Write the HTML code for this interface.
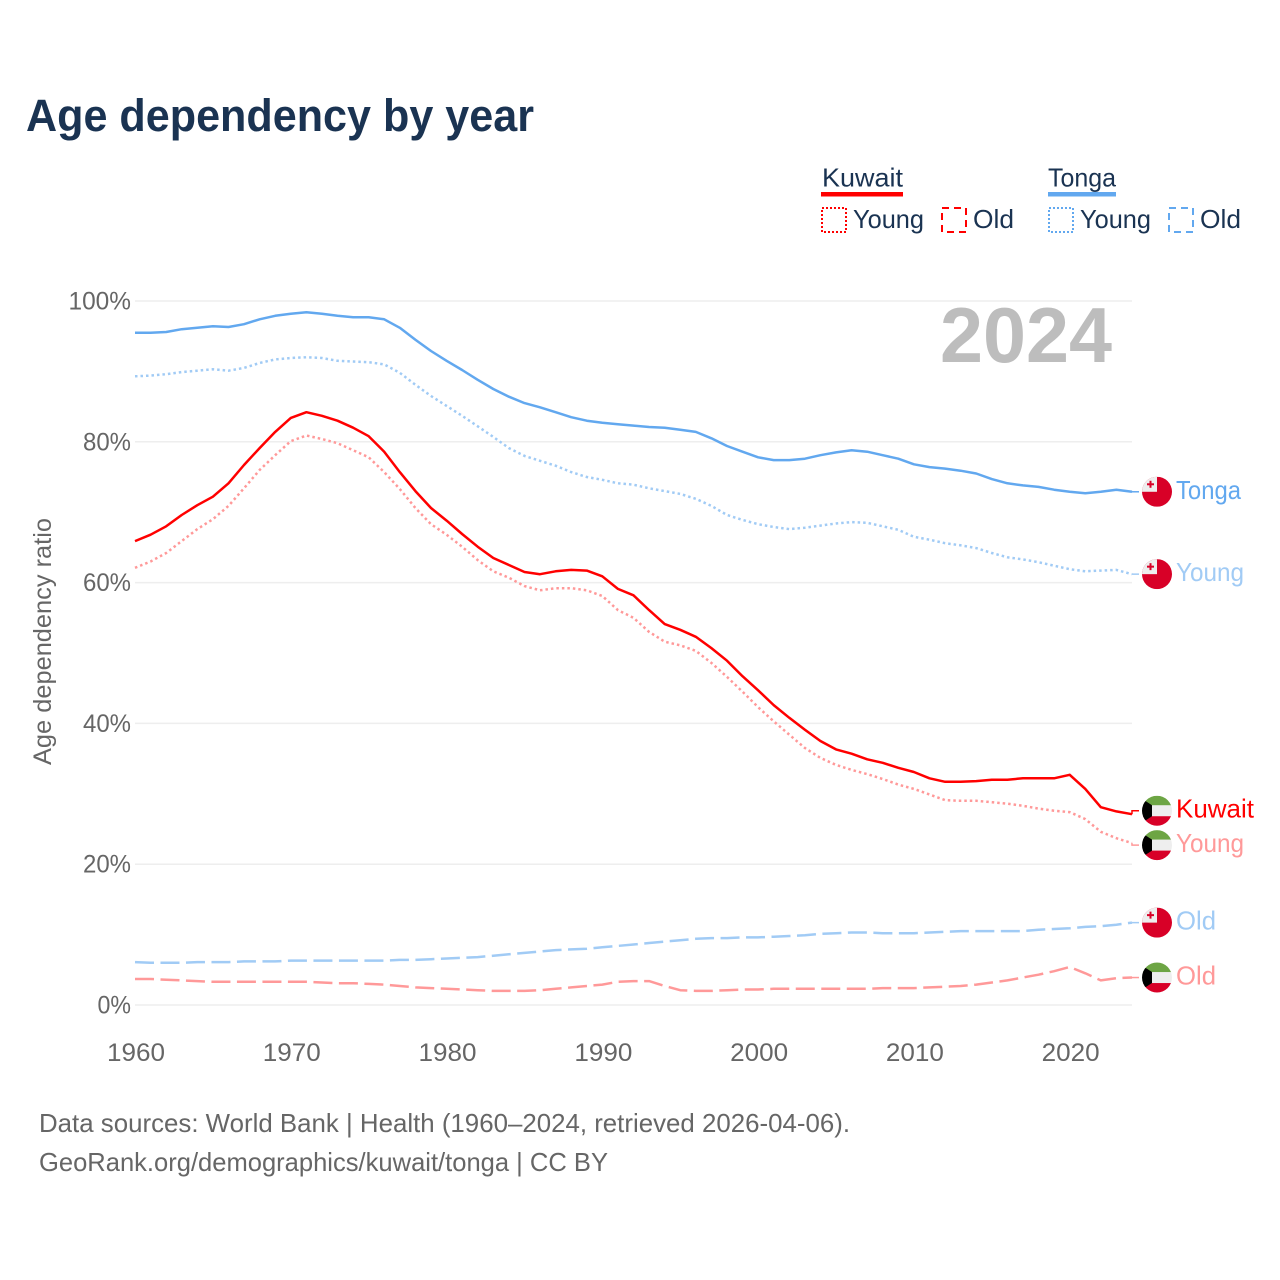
<!DOCTYPE html>
<html lang="en">
<head>
<meta charset="utf-8">
<title>Age dependency by year</title>
<style>
html,body{margin:0;padding:0;background:#fff;width:1280px;height:1280px;overflow:hidden}
svg{display:block}
text{font-family:"Liberation Sans",sans-serif}
</style>
</head>
<body>
<svg id="chart" xmlns="http://www.w3.org/2000/svg" width="1280" height="1280" viewBox="0 0 1280 1280">
  <defs>
    <clipPath id="flag-clip"><circle cx="0" cy="0" r="15"/></clipPath>
  </defs>
  <rect width="1280" height="1280" fill="#fff"/>
  <text x="26" y="131" font-size="45" font-weight="700" fill="#1a3352" textLength="508" lengthAdjust="spacingAndGlyphs">Age dependency by year</text>

  <g font-size="26" fill="#1a3352">
    <text x="822" y="186.5" textLength="81" lengthAdjust="spacingAndGlyphs">Kuwait</text>
    <rect x="821" y="192" width="82" height="4.5" fill="#ff0000"/>
    <rect x="822" y="208" width="24" height="24" fill="none" stroke="#ff0000" stroke-width="2" stroke-dasharray="2 2"/>
    <text x="853" y="228" textLength="71" lengthAdjust="spacingAndGlyphs">Young</text>
    <rect x="942" y="208" width="24" height="24" fill="none" stroke="#ff0000" stroke-width="2" stroke-dasharray="7 5"/>
    <text x="973" y="228" textLength="41" lengthAdjust="spacingAndGlyphs">Old</text>

    <text x="1048" y="186.5" textLength="68" lengthAdjust="spacingAndGlyphs">Tonga</text>
    <rect x="1048" y="192" width="68" height="4.5" fill="#62a8ef"/>
    <rect x="1049" y="208" width="24" height="24" fill="none" stroke="#62a8ef" stroke-width="2" stroke-dasharray="2 2"/>
    <text x="1080" y="228" textLength="71" lengthAdjust="spacingAndGlyphs">Young</text>
    <rect x="1169" y="208" width="24" height="24" fill="none" stroke="#62a8ef" stroke-width="2" stroke-dasharray="7 5"/>
    <text x="1200" y="228" textLength="41" lengthAdjust="spacingAndGlyphs">Old</text>
  </g>

  <g id="grid"></g>
  <g id="yticks" font-size="25" fill="#666"></g>
  <g id="xticks" font-size="25" fill="#666"></g>
  <text transform="translate(51,765) rotate(-90)" font-size="25" fill="#666" textLength="247" lengthAdjust="spacingAndGlyphs">Age dependency ratio</text>
  <text id="year-label" x="940" y="362" font-size="78" font-weight="700" fill="#bdbdbd" textLength="172" lengthAdjust="spacingAndGlyphs">2024</text>
  <g id="series"></g>
  <g id="end-labels"></g>

  <g font-size="26" fill="#666">
    <text x="39" y="1132" textLength="811" lengthAdjust="spacingAndGlyphs">Data sources: World Bank | Health (1960–2024, retrieved 2026-04-06).</text>
    <text x="39" y="1171" textLength="569" lengthAdjust="spacingAndGlyphs">GeoRank.org/demographics/kuwait/tonga | CC BY</text>
  </g>
</svg>
<script>
var startYear = 1960;
var xTickLabels = [1960, 1970, 1980, 1990, 2000, 2010, 2020];
var yTickLabels = [0, 20, 40, 60, 80, 100];

var tongaTotal = [95.5,95.5,95.6,96.0,96.2,96.4,96.3,96.7,97.4,97.9,98.2,98.4,98.2,97.9,97.7,97.7,97.4,96.2,94.5,92.9,91.5,90.2,88.8,87.5,86.4,85.5,84.9,84.2,83.5,83.0,82.7,82.5,82.3,82.1,82.0,81.7,81.4,80.5,79.4,78.6,77.8,77.4,77.4,77.6,78.1,78.5,78.8,78.6,78.1,77.6,76.8,76.4,76.2,75.9,75.5,74.7,74.1,73.8,73.6,73.2,72.9,72.7,72.9,73.2,72.9];
var tongaYoung = [89.3,89.4,89.6,89.9,90.1,90.3,90.1,90.5,91.2,91.7,91.9,92.0,91.9,91.5,91.4,91.3,91.0,89.8,88.1,86.5,85.1,83.7,82.2,80.7,79.1,78.0,77.3,76.6,75.7,75.0,74.6,74.1,73.9,73.4,73.0,72.6,71.9,70.9,69.6,68.9,68.3,67.9,67.6,67.8,68.1,68.4,68.6,68.5,68.0,67.5,66.5,66.1,65.6,65.3,64.9,64.2,63.6,63.3,62.9,62.4,61.9,61.6,61.7,61.8,61.2];
var tongaOld = [6.1,6.0,6.0,6.0,6.1,6.1,6.1,6.2,6.2,6.2,6.3,6.3,6.3,6.3,6.3,6.3,6.3,6.4,6.4,6.5,6.6,6.7,6.8,7.0,7.2,7.4,7.6,7.8,7.9,8.0,8.2,8.4,8.6,8.8,9.0,9.2,9.4,9.5,9.5,9.6,9.6,9.7,9.8,9.9,10.1,10.2,10.3,10.3,10.2,10.2,10.2,10.3,10.4,10.5,10.5,10.5,10.5,10.5,10.7,10.8,10.9,11.1,11.2,11.4,11.7];
var kuwaitTotal = [65.9,66.8,68.0,69.6,71.0,72.2,74.1,76.7,79.1,81.4,83.4,84.2,83.7,83.0,82.0,80.8,78.6,75.7,73.0,70.6,68.8,66.9,65.1,63.5,62.5,61.5,61.2,61.6,61.8,61.7,60.9,59.1,58.2,56.1,54.1,53.3,52.3,50.7,48.9,46.7,44.7,42.6,40.8,39.1,37.5,36.3,35.7,34.9,34.4,33.7,33.1,32.2,31.7,31.7,31.8,32.0,32.0,32.2,32.2,32.2,32.7,30.7,28.1,27.5,27.1];
var kuwaitYoung = [62.1,63.0,64.2,65.9,67.6,69.0,70.9,73.4,76.0,78.1,80.1,80.9,80.4,79.8,78.8,77.8,75.7,73.3,70.6,68.3,66.8,65.1,63.2,61.6,60.7,59.5,58.9,59.2,59.2,58.9,58.1,56.1,55.0,53.0,51.6,51.1,50.3,48.6,46.6,44.5,42.3,40.3,38.4,36.5,35.1,34.1,33.4,32.8,32.1,31.3,30.7,29.9,29.1,29.0,29.0,28.8,28.6,28.3,27.9,27.6,27.4,26.4,24.6,23.7,23.0];
var kuwaitOld = [3.7,3.7,3.6,3.5,3.4,3.3,3.3,3.3,3.3,3.3,3.3,3.3,3.2,3.1,3.1,3.0,2.9,2.7,2.5,2.4,2.3,2.2,2.1,2.0,2.0,2.0,2.1,2.3,2.5,2.7,2.9,3.3,3.4,3.4,2.7,2.1,2.0,2.0,2.1,2.2,2.2,2.3,2.3,2.3,2.3,2.3,2.3,2.3,2.4,2.4,2.4,2.5,2.6,2.7,2.9,3.2,3.5,3.9,4.3,4.8,5.4,4.5,3.5,3.8,3.9];

var seriesNames = ['tonga-old','kuwait-old','tonga-young','tonga-total','kuwait-young','kuwait-total'];
var seriesValues = [tongaOld, kuwaitOld, tongaYoung, tongaTotal, kuwaitYoung, kuwaitTotal];
var seriesLabels = ['Old','Old','Young','Tonga','Young','Kuwait'];
var seriesCountries = ['tonga','kuwait','tonga','tonga','kuwait','kuwait'];
var seriesKinds = ['old','old','young','total','young','total'];

function xScale(year){ return 135 + (year - 1960) * 15.578; }
function yScale(v){ return 1005 - v * 7.04; }

var NS = 'http://www.w3.org/2000/svg';
function make(tag, parent, attrs){
  var el = document.createElementNS(NS, tag);
  for (var k in attrs) el.setAttribute(k, attrs[k]);
  parent.appendChild(el);
  return el;
}

var gridG = document.getElementById('grid');
var yG = document.getElementById('yticks');
yTickLabels.forEach(function(v){
  var line = make('line', gridG, {x1:135, x2:1132, y1:yScale(v), y2:yScale(v), stroke:'#eeeeee', 'stroke-width':1.5});
  
  
  var label = v + '%';
  var w = (label.length - 1) * 14.5 + 19;
  var t = make('text', yG, {x:131 - w, y:yScale(v) + 8.5, textLength:w, lengthAdjust:'spacingAndGlyphs'});
  t.textContent = label;
  
  
});

var xG = document.getElementById('xticks');
xTickLabels.forEach(function(y){
  var t = make('text', xG, {x:xScale(y) - 28, y:1061, textLength:58, lengthAdjust:'spacingAndGlyphs'});
  t.textContent = String(y);
  
  
});

var palette = {kuwait:'#ff0000', tonga:'#62a8ef'};
var lightPalette = {kuwait:'#ff9999', tonga:'#a1cbf5'};
var dashes = {total:'none', young:'2.5 3', old:'19 6.5'};
var labelNudge = {'kuwait-total':-3.5, 'kuwait-young':2};

var sG = document.getElementById('series');
var lG = document.getElementById('end-labels');

function drawFlag(group, country){
  var f = make('g', group, {'clip-path':'url(#flag-clip)'});
  if (country === 'tonga') {
    make('rect', f, {x:-15, y:-15, width:30, height:30, fill:'#d80027'});
    make('rect', f, {x:-15, y:-15, width:15, height:15, fill:'#eeeeee'});
    make('rect', f, {x:-7.5, y:-11, width:2, height:7, fill:'#d80027'});
    make('rect', f, {x:-10, y:-8.5, width:7, height:2, fill:'#d80027'});
  } else {
    make('rect', f, {x:-15, y:-15, width:30, height:10, fill:'#6da544'});
    make('rect', f, {x:-15, y:-5.5, width:30, height:11, fill:'#eeeeee'});
    make('rect', f, {x:-15, y:5.5, width:30, height:10, fill:'#d80027'});
    make('polygon', f, {points:'-15,-12 -5,-5.5 -5,5.5 -15,12', fill:'#000000'});
  }
}

seriesNames.forEach(function(name, i){
  var values = seriesValues[i];
  var country = seriesCountries[i];
  var kind = seriesKinds[i];
  var color = kind === 'total' ? palette[country] : lightPalette[country];
  var pts = values.map(function(v, j){
    return xScale(startYear + j).toFixed(1) + ',' + yScale(v).toFixed(1);
  }).join(' ');
  var line = make('polyline', sG, {points:pts, fill:'none', stroke:color, 'stroke-width':2.5, 'stroke-linejoin':'round'});
  if (dashes[kind] !== 'none') line.setAttribute('stroke-dasharray', dashes[kind]);
  
  

  var last = values[values.length - 1];
  var lastX = xScale(startYear + values.length - 1);
  var lastY = yScale(last);
  var labelY = lastY + (labelNudge[name] || 0);

  var conn = make('polyline', lG, {points:lastX + ',' + lastY + ' ' + lastX + ',' + labelY + ' 1139,' + labelY, fill:'none', stroke:color, 'stroke-width':1.5});
  
  

  var flag = make('g', lG, {transform:'translate(1157,' + labelY + ')'});
  
  
  drawFlag(flag, country);

  var widths = {Tonga:65, Kuwait:78, Young:68, Old:40};
  var t = make('text', lG, {x:1176, y:labelY + 7, 'font-size':26, fill:color, textLength:widths[seriesLabels[i]], lengthAdjust:'spacingAndGlyphs'});
  t.textContent = seriesLabels[i];
  
  
});
</script>
</body>
</html>
